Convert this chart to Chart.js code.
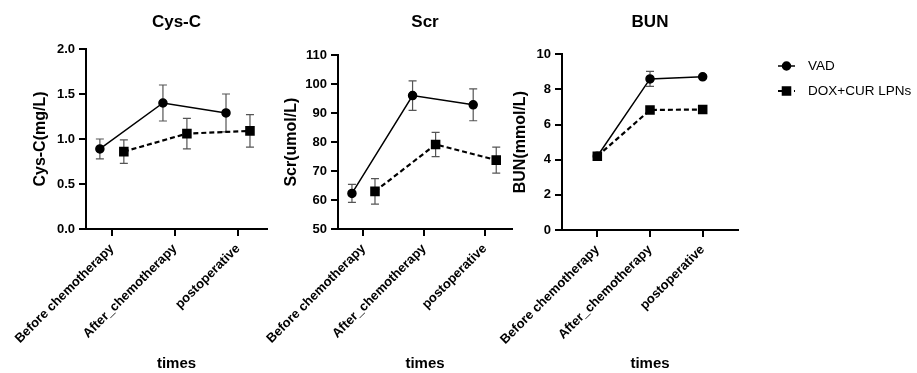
<!DOCTYPE html>
<html>
<head>
<meta charset="utf-8">
<script src="https://cdn.jsdelivr.net/npm/chart.js@4.4.0/dist/chart.umd.min.js"></script>
<style>
  html, body { margin: 0; padding: 0; background: #fff; }
  body { width: 917px; height: 373px; position: relative; overflow: hidden; }
  canvas { position: absolute; top: 0; }
</style>
</head>
<body>
<canvas id="cys" width="280" height="373" style="left:0px"></canvas>
<canvas id="scr" width="280" height="373" style="left:250px"></canvas>
<canvas id="bun" width="437" height="373" style="left:480px"></canvas>
<script>
const categories = ['Before chemotherapy', 'After_chemotherapy', 'postoperative'];
const seriesNames = ['VAD', 'DOX+CUR LPNs'];

// Cys-C (mg/L)
const cysVad = [0.89, 1.40, 1.29];
const cysVadErr = [0.11, 0.20, 0.21];
const cysDox = [0.86, 1.06, 1.09];
const cysDoxErr = [0.13, 0.17, 0.18];

// Scr (umol/L)
const scrVad = [62.3, 96.1, 92.9];
const scrVadErr = [3.1, 5.1, 5.5];
const scrDox = [63.0, 79.2, 73.8];
const scrDoxErr = [4.4, 4.2, 4.5];

// BUN (mmol/L)
const bunVad = [4.2, 8.6, 8.72];
const bunVadErr = [0.1, 0.43, 0.1];
const bunDox = [4.2, 6.83, 6.86];
const bunDoxErr = [0.1, 0.15, 0.15];

const FONT = 'Arial, "Liberation Sans", Helvetica, sans-serif';

const errorBars = {
    id: 'errorBars',
    beforeDatasetsDraw(chart) {
        const ctx = chart.ctx;
        const yScale = chart.scales.y;
        chart.data.datasets.forEach((ds, i) => {
            const meta = chart.getDatasetMeta(i);
            ctx.save();
            ctx.strokeStyle = '#555';
            ctx.lineWidth = 1.2;
            meta.data.forEach((pt, j) => {
                const v = ds.data[j].y;
                const e = ds.errors[j];
                const top = yScale.getPixelForValue(v + e);
                const bot = yScale.getPixelForValue(v - e);
                ctx.beginPath();
                ctx.moveTo(pt.x, top); ctx.lineTo(pt.x, bot);
                ctx.moveTo(pt.x - 4, top); ctx.lineTo(pt.x + 4, top);
                ctx.moveTo(pt.x - 4, bot); ctx.lineTo(pt.x + 4, bot);
                ctx.stroke();
            });
            ctx.restore();
        });
    }
};

const legendBox = {
    id: 'legendBox',
    afterDraw(chart) {
        if (!chart.options.plugins.legendBox || !chart.options.plugins.legendBox.show) return;
        const ctx = chart.ctx;
        const x0 = chart.chartArea.right + 40;
        chart.data.datasets.forEach((ds, i) => {
            const y = 66 + i * 25;
            ctx.save();
            ctx.strokeStyle = '#000';
            ctx.fillStyle = '#000';
            ctx.lineWidth = ds.borderWidth;
            ctx.setLineDash(ds.borderDash || []);
            ctx.beginPath();
            ctx.moveTo(x0, y);
            ctx.lineTo(x0 + 17, y);
            ctx.stroke();
            ctx.setLineDash([]);
            Chart.helpers.drawPoint(ctx, { pointStyle: ds.pointStyle, radius: ds.pointRadius, rotation: 0, borderWidth: 1 }, x0 + 8.5, y);
            ctx.font = '13.5px ' + FONT;
            ctx.textBaseline = 'middle';
            ctx.fillText(ds.label, x0 + 30, y);
            ctx.restore();
        });
    }
};

function makeChart(id, cfg) {
    const toPoints = (vals, shift) => vals.map((v, i) => ({ x: i + shift, y: v }));
    const datasets = [
        {
            label: seriesNames[0],
            data: toPoints(cfg.vad, -cfg.dodge),
            errors: cfg.vadErr,
            borderColor: '#000', backgroundColor: '#000',
            borderWidth: 1.5,
            pointStyle: 'circle', pointRadius: 4,
            pointBackgroundColor: '#000', pointBorderColor: '#000'
        },
        {
            label: seriesNames[1],
            data: toPoints(cfg.dox, cfg.dodge),
            errors: cfg.doxErr,
            borderColor: '#000', backgroundColor: '#000',
            borderWidth: 2.2, borderDash: [5, 3],
            pointStyle: 'rect', pointRadius: 5.2,
            pointBackgroundColor: '#000', pointBorderColor: '#000'
        }
    ];
    return new Chart(document.getElementById(id), {
        type: 'line',
        data: { datasets: datasets },
        plugins: [errorBars, legendBox],
        options: {
            responsive: false,
            animation: false,
            layout: { padding: { left: 0, right: cfg.padRight, top: 0, bottom: 0 } },
            plugins: {
                legend: { display: false },
                tooltip: { enabled: false },
                legendBox: { show: !!cfg.legend },
                title: {
                    display: true, text: cfg.title, fullSize: false, color: '#000',
                    font: { family: FONT, size: 17, weight: 'bold' },
                    padding: { top: 12, bottom: cfg.titlePadBottom }
                }
            },
            scales: {
                x: {
                    type: 'linear',
                    min: cfg.xMin, max: cfg.xMax,
                    afterBuildTicks: s => { s.ticks = categories.map((c, i) => ({ value: i })); },
                    afterFit: s => { s.height = cfg.xHeight; s.paddingLeft = 0; s.paddingRight = 0; },
                    ticks: {
                        callback: v => categories[v],
                        minRotation: 45, maxRotation: 45, autoSkip: false,
                        color: '#000', padding: 5,
                        font: { family: FONT, size: 13, weight: 'bold' }
                    },
                    grid: { display: true, drawOnChartArea: false, drawTicks: true, tickLength: 7, color: '#000', lineWidth: 2 },
                    border: { display: true, color: '#000', width: 2 },
                    title: {
                        display: true, text: 'times', color: '#000',
                        font: { family: FONT, size: 15, weight: 'bold' },
                        padding: { top: 0, bottom: 0 }
                    }
                },
                y: {
                    min: cfg.yMin, max: cfg.yMax,
                    afterFit: s => { s.width = cfg.yWidth; },
                    ticks: {
                        stepSize: cfg.yStep,
                        callback: v => v.toFixed(cfg.yDecimals),
                        color: '#000', padding: 4,
                        font: { family: FONT, size: 13, weight: 'bold' }
                    },
                    grid: { display: true, drawOnChartArea: false, drawTicks: true, tickLength: 7, color: '#000', lineWidth: 2 },
                    border: { display: true, color: '#000', width: 2 },
                    title: {
                        display: true, text: cfg.yTitle, color: '#000',
                        font: { family: FONT, size: 16, weight: 'bold' },
                        padding: { top: cfg.yTitlePad, bottom: 0 }
                    }
                }
            }
        }
    });
}

makeChart('cys', {
    title: 'Cys-C', yTitle: 'Cys-C(mg/L)',
    vad: cysVad, vadErr: cysVadErr, dox: cysDox, doxErr: cysDoxErr,
    yMin: 0, yMax: 2, yStep: 0.5, yDecimals: 1,
    xMin: -0.41, xMax: 2.46, dodge: 0.19,
    yWidth: 86, padRight: 13, xHeight: 144, titlePadBottom: 16.6, yTitlePad: 31,
    legend: false
});

makeChart('scr', {
    title: 'Scr', yTitle: 'Scr(umol/L)',
    vad: scrVad, vadErr: scrVadErr, dox: scrDox, doxErr: scrDoxErr,
    yMin: 50, yMax: 110, yStep: 10, yDecimals: 0,
    xMin: -0.42, xMax: 2.45, dodge: 0.19,
    yWidth: 88, padRight: 18, xHeight: 144, titlePadBottom: 22.9, yTitlePad: 32,
    legend: false
});

makeChart('bun', {
    title: 'BUN', yTitle: 'BUN(mmol/L)',
    vad: bunVad, vadErr: bunVadErr, dox: bunDox, doxErr: bunDoxErr,
    yMin: 0, yMax: 10, yStep: 2, yDecimals: 0,
    xMin: -0.67, xMax: 2.67, dodge: 0,
    yWidth: 82, padRight: 179, xHeight: 143, titlePadBottom: 21.9, yTitlePad: 31,
    legend: true
});
</script>
</body>
</html>
